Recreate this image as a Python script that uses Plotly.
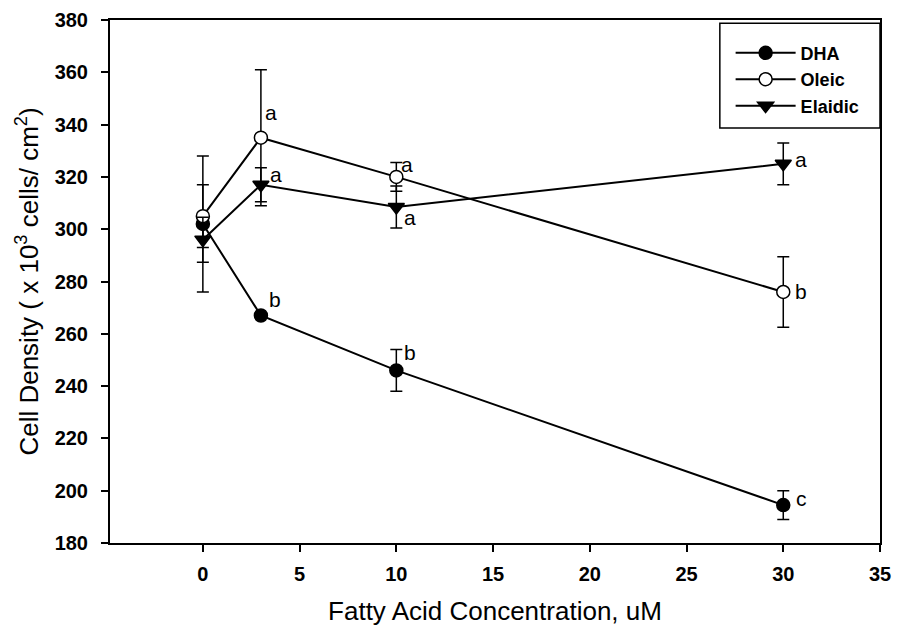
import plotly.graph_objects as go

conc = [0, 3, 10, 30]

dha = [302, 267, 246, 194.5]
dha_err = [26, 1, 8, 5.5]
dha_lbl = ["", "b", "b", "c"]

oleic = [305, 335, 320, 276]
oleic_err = [12, 26, 5.5, 13.5]
oleic_lbl = ["", "a", "a", "b"]

elaidic = [296, 317, 308.5, 325]
elaidic_err = [8.6, 6.5, 8, 8]
elaidic_lbl = ["", "a", "a", "a"]

x_ticks = [0, 5, 10, 15, 20, 25, 30, 35]
y_ticks = [180, 200, 220, 240, 260, 280, 300, 320, 340, 360, 380]

FONT = "Liberation Sans, Arial, sans-serif"

fig = go.Figure()

def add_series(name, y, err, symbol, fill, size):
    fig.add_trace(go.Scatter(
        x=conc, y=y, name=name, mode="lines+markers",
        line=dict(color="black", width=2),
        marker=dict(symbol=symbol, size=size, color=fill,
                    line=dict(color="black", width=1.5)),
        error_y=dict(type="data", array=err, visible=True,
                     color="black", thickness=1.5, width=6),
    ))

add_series("DHA", dha, dha_err, "circle", "black", 13)
add_series("Oleic", oleic, oleic_err, "circle", "white", 13)
add_series("Elaidic", elaidic, elaidic_err, "triangle-down", "black", 14)

# significance letters (offsets in pixels relative to points)
offsets = {
    "DHA": [(0, 0), (14, 16), (14, 18), (18, 7)],
    "Oleic": [(0, 0), (10, 25), (11, 12), (18, 0)],
    "Elaidic": [(0, 0), (15, 10), (14, -11), (18, 4)],
}
for name, ys, lbls in [("DHA", dha, dha_lbl), ("Oleic", oleic, oleic_lbl),
                       ("Elaidic", elaidic, elaidic_lbl)]:
    for i, (xv, yv, t) in enumerate(zip(conc, ys, lbls)):
        if not t:
            continue
        dx, dy = offsets[name][i]
        fig.add_annotation(x=xv, y=yv, text=t, showarrow=False,
                           xshift=dx, yshift=dy,
                           font=dict(family=FONT, size=21, color="black"))

# legend frame
fig.add_shape(type="rect", xref="paper", yref="paper",
              x0=0.792, x1=1.0, y0=0.7935, y1=0.994,
              line=dict(color="black", width=1.5), fillcolor="white",
              layer="below")

fig.update_layout(
    width=897, height=626,
    margin=dict(l=110, r=17, t=20, b=83, autoexpand=False),
    paper_bgcolor="white", plot_bgcolor="white",
    font=dict(family=FONT, color="black"),
    showlegend=True,
    legend=dict(x=0.806, y=0.972, xanchor="left", yanchor="top",
                borderwidth=0, bgcolor="rgba(0,0,0,0)",
                font=dict(family=FONT, size=18, color="black", weight="bold"),
                tracegroupgap=0, itemwidth=60),
    xaxis=dict(range=[-4.8, 35], tickvals=x_ticks, ticks="outside",
               ticklen=7, tickwidth=1.5, tickcolor="black",
               showline=True, linecolor="black", linewidth=2, mirror=True,
               showgrid=False, zeroline=False, ticklabeloverflow="allow",
               automargin=False,
               tickfont=dict(family=FONT, size=20, color="black", weight="bold"),
               ticklabelstandoff=5,
               title=dict(text="Fatty Acid Concentration, uM",
                          font=dict(family=FONT, size=26, color="black"),
                          standoff=27)),
    yaxis=dict(range=[180, 380], tickvals=y_ticks, ticks="outside",
               ticklen=7, tickwidth=1.5, tickcolor="black",
               showline=True, linecolor="black", linewidth=2, mirror=True,
               showgrid=False, zeroline=False, automargin=False,
               tickfont=dict(family=FONT, size=20, color="black", weight="bold"),
               ticklabelstandoff=9,
               title=dict(text="Cell Density ( x 10<sup>3</sup> cells/ cm<sup>2</sup>)",
                          font=dict(family=FONT, size=26, color="black"),
                          standoff=9)),
)

fig.write_html(
    "out.html",
    config={"displayModeBar": False},
    post_script="document.body.style.margin='0';"
                "document.documentElement.style.overflow='hidden';"
                "document.body.style.overflow='hidden';",
)
